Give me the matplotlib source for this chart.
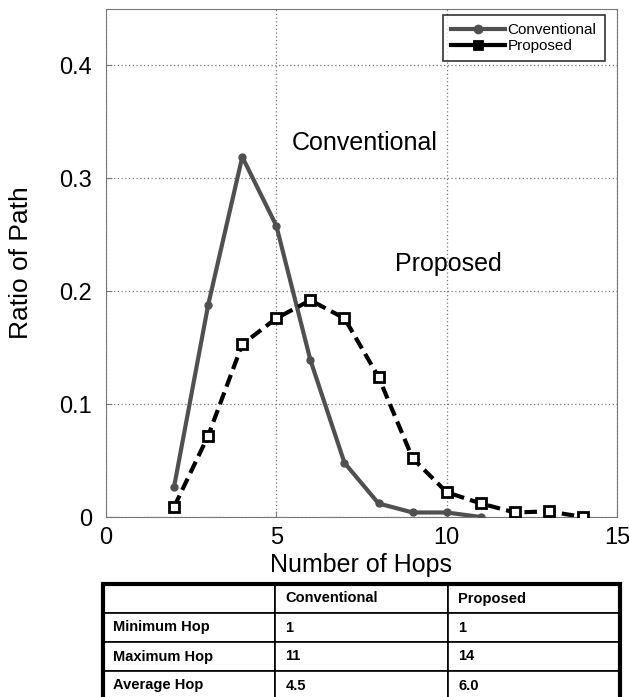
import matplotlib.pyplot as plt

plt.rcParams['font.family'] = ['Liberation Sans', 'DejaVu Sans']

hops_conv = [2, 3, 4, 5, 6, 7, 8, 9, 10, 11]
ratio_conv = [0.027, 0.188, 0.319, 0.258, 0.139, 0.048, 0.012, 0.004, 0.004, 0.0]

hops_prop = [2, 3, 4, 5, 6, 7, 8, 9, 10, 11, 12, 13, 14]
ratio_prop = [0.009, 0.072, 0.153, 0.176, 0.192, 0.176, 0.124, 0.052, 0.022,
              0.012, 0.004, 0.005, 0.0]

col_labels = ["", "Conventional", "Proposed"]
row_labels = ["Minimum Hop", "Maximum Hop", "Average Hop"]
conv_stats = ["1", "11", "4.5"]
prop_stats = ["1", "14", "6.0"]

fig = plt.figure(figsize=(6.29, 6.97), dpi=100)
ax = fig.add_axes([106 / 629, 1 - 517 / 697, 511 / 629, 508 / 697])

ax.plot(hops_conv, ratio_conv, color="#505050", lw=3, marker="o", ms=5,
        label="Conventional", zorder=3)
ax.plot(hops_prop, ratio_prop, color="black", lw=3, ls=(0, (3, 1.5)),
        marker="s", ms=7, mfc="white", mec="black", mew=2,
        label="Proposed", zorder=4)

ax.set_xlim(0, 15)
ax.set_ylim(0, 0.45)
ax.set_xticks([0, 5, 10, 15])
ax.set_yticks([0, 0.1, 0.2, 0.3, 0.4])
ax.set_yticklabels(["0", "0.1", "0.2", "0.3", "0.4"])
ax.tick_params(labelsize=17, length=4, direction="in", colors="#777777",
               labelcolor="black")
ax.tick_params(axis="x", pad=7)
ax.tick_params(axis="y", pad=10)
ax.grid(True, ls=(0, (1, 2)), color="#777777", lw=0.9)
for sp in ax.spines.values():
    sp.set_color("#777777")

ax.set_xlabel("Number of Hops", fontsize=18, labelpad=3)
ax.set_ylabel("Ratio of Path", fontsize=19)
ax.yaxis.set_label_coords(-0.142, 0.5)

ax.text(7.6, 0.331, "Conventional", fontsize=18, ha="center", va="center")
ax.text(10.05, 0.224, "Proposed", fontsize=18, ha="center", va="center")

leg = ax.legend(loc="upper right", fontsize=11, handlelength=3.5,
                frameon=True, fancybox=False, borderpad=0.55,
                labelspacing=0.1, handletextpad=0.2, borderaxespad=0,
                bbox_to_anchor=(0.9765, 0.988))
leg.get_frame().set_edgecolor("black")
leg.get_frame().set_linewidth(1.2)
for h in leg.legend_handles:
    h.set_linestyle("-")
leg.legend_handles[0].set_markersize(6)
leg.legend_handles[1].set_markerfacecolor("black")
leg.legend_handles[1].set_markersize(6)

# summary table under the plot (bottom row runs off the page)
tab_ax = fig.add_axes([103 / 629, -3 / 697, 517 / 629, 116 / 697])
tab_ax.axis("off")
cells = [col_labels] + [[r, c, p] for r, c, p in zip(row_labels, conv_stats, prop_stats)]
tbl = tab_ax.table(cellText=cells, cellLoc="left", bbox=[0, 0, 1, 1],
                   colWidths=[172, 173, 172])
tbl.auto_set_font_size(False)
for (r, c), cell in tbl.get_celld().items():
    cell.set_height(0.25)
    cell.set_linewidth(1.2)
    cell.PAD = 0.06
    cell.get_text().set_fontsize(10.5)
    cell.get_text().set_fontweight("bold")
tab_ax.add_patch(plt.Rectangle((0, 0), 1, 1, fill=False, lw=3,
                               edgecolor="black", transform=tab_ax.transAxes,
                               clip_on=False))

fig.savefig("out.png", dpi=100)
